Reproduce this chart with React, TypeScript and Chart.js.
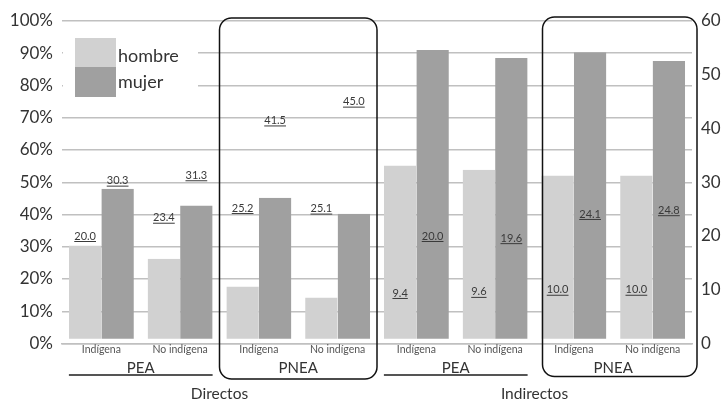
import React, { useEffect, useRef } from "react";
import { Chart, registerables } from "chart.js";
Chart.register(...registerables);

const categories = ["Indígena", "No indígena", "Indígena", "No indígena", "Indígena", "No indígena", "Indígena", "No indígena"];
const subGroups = ["PEA", "PNEA", "PEA", "PNEA"];
const mainGroups = ["Directos", "Indirectos"];
const seriesNames = ["hombre", "mujer"];
const hombre = [30.4, 26.3, 17.7, 14.3, 55.2, 53.9, 52.1, 52.1];
const mujer = [48.0, 42.8, 45.2, 40.2, 91.0, 88.5, 90.3, 87.6];
const hombreLabels = [20.0, 23.4, 25.2, 25.1, 9.4, 9.6, 10.0, 10.0];
const mujerLabels = [30.3, 31.3, 41.5, 45.0, 20.0, 19.6, 24.1, 24.8];
const leftTicks = [0, 10, 20, 30, 40, 50, 60, 70, 80, 90, 100];
const rightTicks = [0, 10, 20, 30, 40, 50, 60];

const COL_H = "#d1d1d1";
const COL_M = "#a0a0a0";
const FONT = "Lato, 'Open Sans', sans-serif";

const overlay = {
  id: "overlay",
  afterDatasetsDraw(chart: any) {
    const ctx = chart.ctx;
    const y1 = chart.scales.y1;
    const area = chart.chartArea;
    const mh = chart.getDatasetMeta(0);
    const mm = chart.getDatasetMeta(1);
    ctx.save();
    // data labels (right axis values)
    ctx.font = `11px ${FONT}`;
    ctx.fillStyle = "#3a3a3a";
    ctx.strokeStyle = "#3a3a3a";
    ctx.lineWidth = 1;
    ctx.textAlign = "center";
    ctx.textBaseline = "middle";
    const drawU = (t: string, cx: number, cy: number) => {
      ctx.fillText(t, cx, cy);
      const w = ctx.measureText(t).width;
      ctx.beginPath();
      ctx.moveTo(cx - w / 2, cy + 5.5);
      ctx.lineTo(cx + w / 2, cy + 5.5);
      ctx.stroke();
    };
    for (let i = 0; i < categories.length; i++) {
      drawU(hombreLabels[i].toFixed(1), mh.data[i].x, y1.getPixelForValue(hombreLabels[i]));
      drawU(mujerLabels[i].toFixed(1), mm.data[i].x, y1.getPixelForValue(mujerLabels[i]));
    }
    // legend
    ctx.fillStyle = "#ffffff";
    ctx.fillRect(area.left + 1, 28, 135, 73);
    const lx = area.left + 13;
    ctx.fillStyle = COL_H;
    ctx.fillRect(lx, 38, 41, 29);
    ctx.fillStyle = COL_M;
    ctx.fillRect(lx, 67, 41, 30);
    ctx.fillStyle = "#333333";
    ctx.font = `18px ${FONT}`;
    ctx.textAlign = "left";
    ctx.fillText(seriesNames[0], lx + 43, 56);
    ctx.fillText(seriesNames[1], lx + 43, 82);
    ctx.restore();
  },
  afterDraw(chart: any) {
    const ctx = chart.ctx;
    const x = chart.scales.x;
    const area = chart.chartArea;
    const mh = chart.getDatasetMeta(0);
    const mm = chart.getDatasetMeta(1);
    const bound = (i: number) => (x.getPixelForValue(i) + x.getPixelForValue(i + 1)) / 2;
    ctx.save();
    // rounded boxes around PNEA groups
    ctx.strokeStyle = "#111111";
    ctx.lineWidth = 1.5;
    const rr = (l: number, t: number, r: number, b: number) => {
      ctx.beginPath();
      (ctx as any).roundRect(l, t, r - l, b - t, 12);
      ctx.stroke();
    };
    rr(bound(1), area.top - 3, bound(3), area.bottom + 35.5);
    rr(bound(5) + 8, area.top - 4, area.right + 5, area.bottom + 33);
    // PEA underlines
    ctx.strokeStyle = "#555555";
    ctx.lineWidth = 2;
    for (const g of [0, 4]) {
      const b0 = mh.data[g];
      const b1 = mm.data[g + 1];
      ctx.beginPath();
      ctx.moveTo(b0.x - b0.width / 2, area.bottom + 31.5);
      ctx.lineTo(b1.x + b1.width / 2, area.bottom + 31.5);
      ctx.stroke();
    }
    // sub group labels
    ctx.fillStyle = "#333333";
    ctx.textAlign = "center";
    ctx.textBaseline = "alphabetic";
    ctx.font = `15px ${FONT}`;
    subGroups.forEach((s, k) => {
      ctx.fillText(s, bound(k * 2), area.bottom + 29.5);
    });
    ctx.font = `15.5px ${FONT}`;
    mainGroups.forEach((s, k) => {
      ctx.fillText(s, bound(k * 4 + 1), area.bottom + 55);
    });
    ctx.restore();
  },
};

export default function App() {
  const ref = useRef<HTMLCanvasElement>(null);
  useEffect(() => {
    if (!ref.current) return;
    const chart = new Chart(ref.current, {
      type: "bar",
      data: {
        labels: categories,
        datasets: [
          {
            label: seriesNames[0],
            data: hombre,
            backgroundColor: COL_H,
            borderColor: "#ffffff",
            borderWidth: { top: 0, left: 0, right: 0, bottom: 4 },
            borderSkipped: false,
            yAxisID: "y",
          },
          {
            label: seriesNames[1],
            data: mujer,
            backgroundColor: COL_M,
            borderColor: "#ffffff",
            borderWidth: { top: 0, left: 0, right: 0, bottom: 4 },
            borderSkipped: false,
            yAxisID: "y",
          },
        ],
      },
      options: {
        animation: false,
        responsive: false,
        layout: { padding: { top: 21, bottom: 37.5, left: 0, right: 0 } },
        datasets: { bar: { categoryPercentage: 0.825, barPercentage: 1 } },
        plugins: { legend: { display: false }, tooltip: { enabled: false } },
        scales: {
          x: {
            z: 1,
            grid: { display: false, drawTicks: false },
            border: { display: true, color: "#c0c0c0", width: 1.5 },
            ticks: { font: { family: FONT, size: 10.5 }, color: "#555555", padding: 0, maxRotation: 0, autoSkip: false },
            afterFit: (s: any) => { s.height = 20; },
          },
          y: {
            position: "left",
            min: 0,
            max: 100,
            stacked: false,
            grid: { color: "#c0c0c0", lineWidth: 1.5, drawTicks: false },
            border: { display: false },
            ticks: { font: { family: FONT, size: 17 }, color: "#333333", padding: 9, callback: (v: any) => `${v}%` },
            afterBuildTicks: (s: any) => { s.ticks = leftTicks.map((v) => ({ value: v })); },
            afterFit: (s: any) => { s.width = 62; },
          },
          y1: {
            position: "right",
            min: 0,
            max: 60,
            grid: { display: false, drawTicks: false },
            border: { display: false },
            ticks: { font: { family: FONT, size: 17 }, color: "#333333", padding: 9 },
            afterBuildTicks: (s: any) => { s.ticks = rightTicks.map((v) => ({ value: v })); },
            afterFit: (s: any) => { s.width = 33; },
          },
        },
      },
      plugins: [overlay],
    } as any);
    return () => chart.destroy();
  }, []);
  return (
    <div style={{ position: "absolute", left: 0, top: 0, width: 725, height: 401, background: "#fff" }}>
      <canvas ref={ref} width={725} height={401} style={{ display: "block" }} />
    </div>
  );
}
